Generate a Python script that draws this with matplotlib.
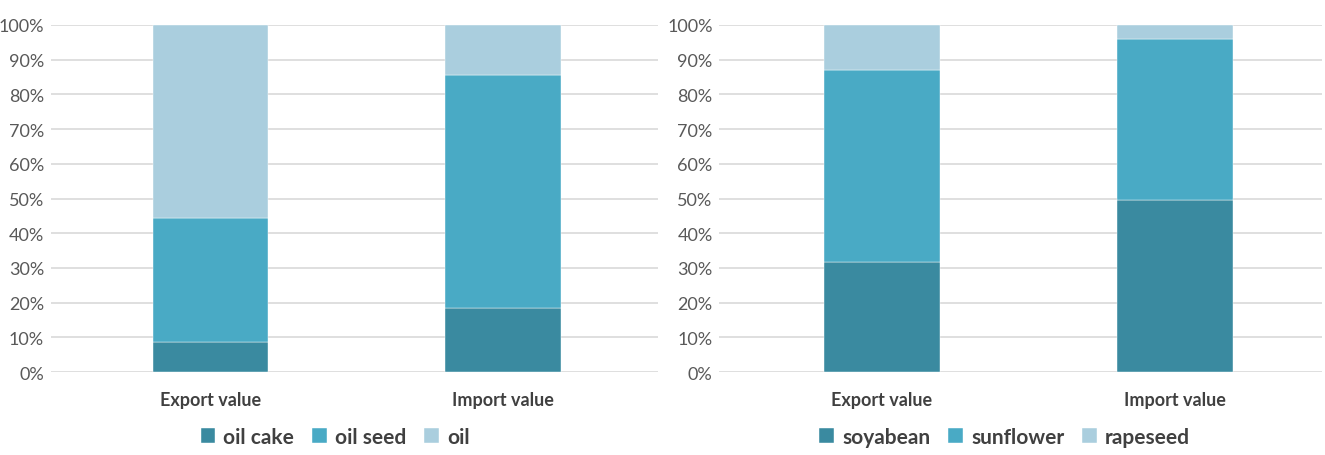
import numpy as np
import matplotlib.pyplot as plt
from matplotlib.ticker import PercentFormatter

plt.rcParams['font.family'] = ['Lato', 'DejaVu Sans']

categories = ['Export value', 'Import value']

# left panel: product type shares (%)
left_names = ['oil cake', 'oil seed', 'oil']
left_vals = [
    [8.6, 18.4],
    [35.8, 67.2],
    [55.6, 14.4],
]

# right panel: crop shares (%)
right_names = ['soyabean', 'sunflower', 'rapeseed']
right_vals = [
    [31.7, 49.6],
    [55.3, 46.4],
    [13.0, 4.0],
]

colors = ['#3A8AA0', '#49AAC5', '#AACEDE']

fig = plt.figure(figsize=(13.25, 4.56), dpi=100)
ax1 = fig.add_axes([0.0385, 0.182, 0.458, 0.761])
ax2 = fig.add_axes([0.543, 0.182, 0.455, 0.761])

panels = [(ax1, left_names, left_vals, (-0.545, 1.53), 0.468),
          (ax2, right_names, right_vals, (-0.554, 1.504), 0.473)]

for ax, names, vals, xl, lx in panels:
    x = np.arange(len(categories))
    bottom = np.zeros(len(categories))
    for name, v, c in zip(names, vals, colors):
        ax.bar(x, v, 0.395, bottom=bottom, color=c, label=name, zorder=3,
               edgecolor='white', linewidth=0.3)
        bottom += np.array(v)
    ax.set_xlim(*xl)
    ax.set_ylim(0, 100)
    ax.set_yticks(np.arange(0, 101, 10))
    ax.yaxis.set_major_formatter(PercentFormatter(decimals=0))
    ax.grid(axis='y', color='#D9D9D9', linewidth=1.2, zorder=0)
    for s in ax.spines.values():
        s.set_visible(False)
    ax.tick_params(length=0, labelsize=13, colors='#595959', pad=5)
    ax.set_xticks(x)
    ax.set_xticklabels(categories, fontweight='bold', color='#404040', fontsize=13)
    ax.tick_params(axis='x', pad=14)
    leg = ax.legend(loc='center', bbox_to_anchor=(lx, -0.187), ncol=3,
                    frameon=False, fontsize=15, handlelength=0.7, handleheight=0.7,
                    handletextpad=0.4, columnspacing=0.85, borderaxespad=0)
    for t in leg.get_texts():
        t.set_color('#404040')
        t.set_fontweight('bold')

fig.savefig('out.png', dpi=100)
